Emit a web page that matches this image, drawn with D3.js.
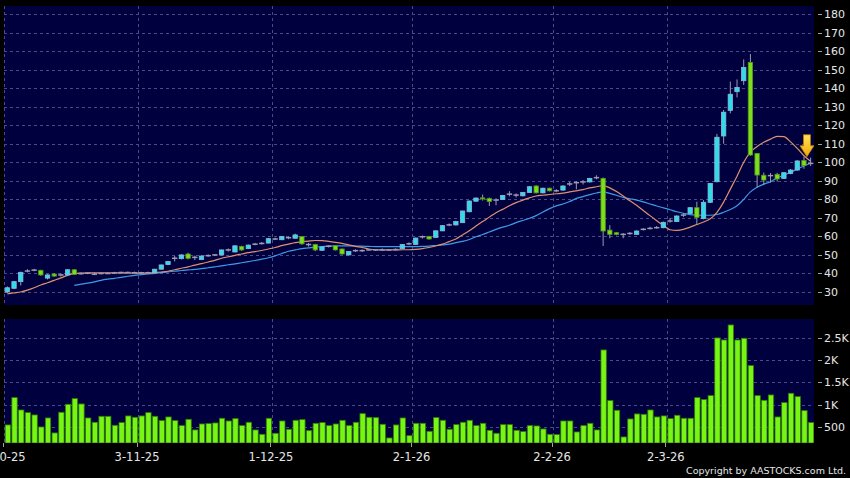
<!DOCTYPE html>
<meta charset="utf-8">
<style>
body { margin: 0; background-color: #000; }
text { font-family: 'DejaVu Sans', sans-serif; fill: #e6e6e6; }
.grid line { stroke: #4a4a88; stroke-dasharray: 3,3; shape-rendering: crispEdges; }
.axis path { display: none; }
.axis line { stroke: #a0a0a0; shape-rendering: crispEdges; }
</style>
<div class="chart"></div>
<script src="https://d3js.org/d3.v7.min.js"></script>
<script>
    // trading days, Oct 2025 - Mar 2026
    var days = [
        "2-10-25","3-10-25","6-10-25","8-10-25","9-10-25","10-10-25","13-10-25","14-10-25","15-10-25","16-10-25",
        "17-10-25","20-10-25","21-10-25","22-10-25","23-10-25","24-10-25","27-10-25","28-10-25","30-10-25","31-10-25",
        "3-11-25","4-11-25","5-11-25","6-11-25","7-11-25","10-11-25","11-11-25","12-11-25","13-11-25","14-11-25",
        "17-11-25","18-11-25","19-11-25","20-11-25","21-11-25","24-11-25","25-11-25","26-11-25","27-11-25","28-11-25",
        "1-12-25","2-12-25","3-12-25","4-12-25","5-12-25","8-12-25","9-12-25","10-12-25","11-12-25","12-12-25",
        "15-12-25","16-12-25","17-12-25","18-12-25","19-12-25","22-12-25","23-12-25","24-12-25","29-12-25","30-12-25",
        "31-12-25","2-1-26","5-1-26","6-1-26","7-1-26","8-1-26","9-1-26","12-1-26","13-1-26","14-1-26",
        "15-1-26","16-1-26","19-1-26","20-1-26","21-1-26","22-1-26","23-1-26","26-1-26","27-1-26","28-1-26",
        "29-1-26","30-1-26","2-2-26","3-2-26","4-2-26","5-2-26","6-2-26","9-2-26","10-2-26","11-2-26",
        "12-2-26","13-2-26","16-2-26","20-2-26","23-2-26","24-2-26","25-2-26","26-2-26","27-2-26","2-3-26",
        "3-3-26","4-3-26","5-3-26","6-3-26","9-3-26","10-3-26","11-3-26","12-3-26","13-3-26","16-3-26",
        "17-3-26","18-3-26","19-3-26","20-3-26","23-3-26","24-3-26","25-3-26","26-3-26","27-3-26","30-3-26",
        "31-3-26"];

    var open = [30,32,35.6,41.3,41.8,41.7,37.5,39.7,39.2,39.2, 42,39.9,40.1,39.6,40,40,40.3,40.5,40.5,40.4,
        40.4,40.4,40.4,42.3,44.8,48.2,48,50.5,48.7,47.5, 49.6,50,50,52.7,51.6,54.6,53.4,55.8,56.2,56.4,
        58.6,58.2,59.3,59,59.9,55.6,55.6,52.5,54.7,55, 53.2,50,52.3,52.3,52.7,52.7,52.7,52.7,52.9,53.4,
        56,55.7,59.8,60,59.5,63,66.2,66.2,67.4,73.3, 79,80.8,80.5,79.6,79.9,82.8,82.3,81.9,83.7,87.2,
        83.5,86,84.6,85,88.3,89,89.4,89.4,91.7,91.3, 63.4,62,61.1,61.6,61.1,63.8,64.3,64.7,64.7,68.3,
        68,71.5,72.4,75.5,69.7,78.4,89.5,114.2,128,138.1, 144,153.9,104.8,93,92.8,93.5,91.3,94,95.8,100.9,
        99.4];
    var high = [33,36,41,42.3,42.5,42,39.6,40.2,40,42.4, 42.3,40.6,40.8,40.7,40.6,40.5,40.9,41,41,41,
        40.9,41,42.5,44.8,46.8,49.5,50.4,51.2,49.6,49.8, 50.3,50.5,52.9,53.5,55.2,55,55.6,56.5,57,59.2,
        59.3,60.2,60,61.5,60.2,56.5,56,54.6,55.2,55.3, 53.5,52,53,53,53.2,53.2,53.5,53.2,53.5,55.9,
        56.8,59.4,60.5,60.3,63.3,66.1,67,68.4,74,79.4, 81,82.6,81,80.6,82.4,84.4,83.2,84,87.2,87.6,
        86.3,86.3,85.5,87.6,89.5,89.8,90.4,91.6,93,91.8, 66.1,62.4,61.8,62.3,63.3,64.5,65.2,65.6,68,70,
        71.4,72.5,75.8,78.7,79.6,88.9,115.3,128.2,143.5,144.7, 155.5,158.4,105,94.5,94.2,94.3,94.6,96.4,101.2,103,
        102.5];
    var low = [29.5,31.5,33.5,40.6,41.2,38.8,36.8,38.2,38.3,39, 39.2,39.4,39.6,39.1,39.5,39.6,39.8,40,40,40,
        39.9,39.8,40.1,42,44.5,46.5,47.6,47.6,47.2,47.2, 49,49.4,49.8,51.8,51.4,52.2,53.2,55.2,55.6,56.2,
        58,58,58.5,58.8,55.4,54.5,52,52.2,54,52.4, 50.2,49.8,51.6,51.6,52.3,52.2,52.2,52.3,52.4,53.2,
        55.3,55.5,58.8,58.3,59.2,62.8,65.5,65.8,67.2,73, 78.6,79.3,76.4,76.8,79.6,81.6,81,81.6,83.4,83.2,
        83.2,84.3,83.8,84.6,87.2,85.4,88,89.1,90.8,54.8, 59,60.6,59,60.8,60.9,63.2,63.8,64.2,64.4,67.4,
        67.8,70.5,72,66.1,69.2,78,89.2,110,126.4,135, 141.7,103.5,86.5,87.7,89,89.6,91,93.5,95.4,96.5,
        98];
    var close = [32.3,35.6,40.6,41.3,41.8,39.2,39.2,38.6,39.2,42, 39.5,39.9,40.1,39.6,40,40,40.3,40.5,40.5,40.4,
        40.4,40.4,42.3,44.6,46.5,48.2,50,48.2,48.7,49.4, 49.6,50,52.7,52.7,54.9,52.7,55.3,55.8,56.2,58.8,
        58.6,59.9,59.3,60.8,56,55.6,52.7,54.3,54.7,52.7, 50.5,51.8,52.3,52.3,52.7,52.7,52.7,52.7,52.9,55.6,
        56,59.1,59.8,58.6,63,65.8,66.2,68,73.7,79.1, 80.7,80.2,78.8,79.6,82.1,82.8,82.3,83.7,86.8,83.5,
        86,84.6,84.6,87.2,88.3,89,89.4,91.3,91.7,62.9, 61.1,61.1,61.1,61.6,62.9,63.8,64.3,64.7,67.6,68.3,
        71,71.5,75.5,70.3,78.4,88.6,113.5,127,136.7,140.4, 151.2,103.9,93.1,90.4,92.8,91,94.4,95.8,100.7,98.2,
        99.4];
    var volume = [538,1157,877,817,764,492,696,357,825,1006, 1134,1013,696,598,734,734,530,591,742,711,
        742,817,734,636,719,636,523,666,425,560, 568,583,689,628,681,523,598,425,326,689,
        349,628,440,643,658,409,575,591,523,560, 643,523,598,794,711,704,553,243,538,696,
        296,575,575,394,704,643,440,545,598,643, 523,575,417,349,545,545,417,387,523,515,
        447,326,319,628,628,379,523,575,425,2236, 1089,870,266,674,787,779,877,719,742,681,
        757,689,689,1157,1111,1202,2508,2462,2802,2462, 2500,1881,1202,1096,1217,719,1043,1255,1179,862,
        591];
    // moving averages as drawn on the chart (orange 10-day, blue 20-day)
    var ma10 = [29,29.5,30,31,32.3,33.8,35,36.3,37.6,39, 40,40.2,40.3,40.3,40.3,40.3,40.3,40.3,40.3,40.2,
        40.2,40.3,40.5,40.8,41.2,42,42.8,43.6,44.5,45.3, 46.2,47.1,48.2,49,49.8,50.5,51.2,51.8,52.4,53.2,
        54,55,55.8,56.6,57.1,57.5,57.8,57.7,57.3,56.8, 56.2,55.4,54.6,54,53.2,52.8,52.7,52.7,52.7,52.8,
        52.8,53,53.4,54,54.8,55.8,57.2,58.6,60.8,63, 65.6,68,70.4,72.8,74.6,76.5,78.2,79.6,80.8,81.8,
        82.2,82.6,83,83.4,84,84.6,85.2,86.2,86.8,87.4, 86.2,84.2,81.8,79.2,76.8,74,71.2,68.5,66,63.6,
        63.3,63.8,65,66.4,67.8,69.5,73,78.5,85.5,92.5, 100,105.5,108.5,110.8,112.5,114,113.8,111,107.5,103.5,
        100.5];
    var ma20 = [null,null,null,null,null,null,null,null,null,null,
        33.6,34.2,34.8,35.5,36.3,36.9,37.4,37.9,38.5,39, 39.4,39.8,40.1,40.5,40.9,41.2,41.6,41.9,42.2,42.6,
        43.1,43.6,44.1,44.7,45.2,45.8,46.4,47,47.7,48.5, 49.5,50.8,52,52.7,53.4,53.8,54.2,54.5,54.8,54.9,
        54.9,54.9,54.8,54.7,54.6,54.5,54.5,54.5,54.5,54.5, 54.5,54.5,54.6,54.8,55.1,55.4,55.8,56.6,57.3,58.3,
        59.8,61,62.4,63.8,65,66,67.4,68.6,69.8,71.2, 73.2,75,76.5,77.5,78.8,80.5,81.5,82.5,83.4,84,
        83.2,82.2,81,80.3,79.6,78.6,77.5,76.4,75.4,74.4, 73.3,72.5,71.8,71.5,71.4,71.4,71.8,73,74.5,76.5,
        80,84,86.5,88.2,89.5,91.6,93,94.6,96.4,98, 99.5];

    var monthStarts = ["2-10-25","3-11-25","1-12-25","2-1-26","2-2-26","2-3-26"];
    var priceTicks = [30,40,50,60,70,80,90,100,110,120,130,140,150,160,170,180];
    var volumeTicks = [500,1000,1500,2000,2500];
    var arrowDay = "30-3-26";

    var width = 850, height = 478;
    var plotLeft = 4, plotRight = 814;
    var priceTop = 6, priceBottom = 305;
    var volTop = 319, volBottom = 443;
    var panelColor = "#00003e";

    var svg = d3.select(".chart")
        .append("svg")
        .attr("width", width)
        .attr("height", height)
        .style("display", "block");

    svg.append("rect").attr("width", width).attr("height", height).attr("fill", "#000");

    var x = d3.scaleBand()
        .domain(days)
        .range([plotLeft, plotRight])
        .paddingInner(0.2)
        .paddingOuter(0.1);
    var bw = x.bandwidth();
    var gap = x.step() * 0.1;

    var y = d3.scaleLinear().domain([30, 180]).range([292, 14]);
    var yv = d3.scaleLinear().domain([0, 2500]).range([448.7, 338.3]);

    var defs = svg.append("defs");
    defs.append("clipPath").attr("id", "clipPrice")
        .append("rect").attr("x", plotLeft).attr("y", priceTop)
        .attr("width", plotRight - plotLeft).attr("height", priceBottom - priceTop);
    defs.append("clipPath").attr("id", "clipVol")
        .append("rect").attr("x", plotLeft).attr("y", volTop)
        .attr("width", plotRight - plotLeft).attr("height", volBottom - volTop);
    var grad = defs.append("linearGradient").attr("id", "arrowGrad")
        .attr("x1", 0).attr("y1", 0).attr("x2", 0).attr("y2", 1);
    grad.append("stop").attr("offset", "0%").attr("stop-color", "#ffe45a");
    grad.append("stop").attr("offset", "100%").attr("stop-color", "#f2a800");

    // panels
    svg.append("rect").attr("x", plotLeft).attr("y", priceTop)
        .attr("width", plotRight - plotLeft).attr("height", priceBottom - priceTop)
        .attr("fill", panelColor);
    svg.append("rect").attr("x", plotLeft).attr("y", volTop)
        .attr("width", plotRight - plotLeft).attr("height", volBottom - volTop)
        .attr("fill", panelColor);

    // grid
    var grid = svg.append("g").attr("class", "grid");
    grid.selectAll(".hp").data(priceTicks).enter().append("line")
        .attr("x1", plotLeft).attr("x2", plotRight)
        .attr("y1", function (d) { return Math.round(y(d)) + 0.5; })
        .attr("y2", function (d) { return Math.round(y(d)) + 0.5; });
    grid.selectAll(".hv").data(volumeTicks).enter().append("line")
        .attr("x1", plotLeft).attr("x2", plotRight)
        .attr("y1", function (d) { return Math.round(yv(d)) + 0.5; })
        .attr("y2", function (d) { return Math.round(yv(d)) + 0.5; });
    grid.selectAll(".vp").data(monthStarts).enter().append("line")
        .attr("x1", function (d) { return Math.round(x(d) - gap) + 0.5; })
        .attr("x2", function (d) { return Math.round(x(d) - gap) + 0.5; })
        .attr("y1", priceTop).attr("y2", priceBottom);
    grid.selectAll(".vv").data(monthStarts).enter().append("line")
        .attr("x1", function (d) { return Math.round(x(d) - gap) + 0.5; })
        .attr("x2", function (d) { return Math.round(x(d) - gap) + 0.5; })
        .attr("y1", volTop).attr("y2", volBottom);

    var candles = days.map(function (d, i) {
        return { day: d, o: open[i], h: high[i], l: low[i], c: close[i], v: volume[i] };
    });

    // moving averages
    var priceG = svg.append("g").attr("clip-path", "url(#clipPrice)");
    function maLine(arr, color) {
        var line = d3.line()
            .defined(function (d) { return d != null; })
            .x(function (d, i) { return x(days[i]) + bw / 2; })
            .y(function (d) { return y(d); })
            .curve(d3.curveMonotoneX);
        priceG.append("path")
            .datum(arr)
            .attr("fill", "none")
            .attr("stroke", color)
            .attr("stroke-width", 1.2)
            .attr("d", line);
    }
    maLine(ma20, "#3d9be6");
    maLine(ma10, "#e09070");

    // candles
    var cg = priceG.selectAll(".candle")
        .data(candles)
        .enter()
        .append("g")
        .attr("class", "candle");

    cg.append("line")
        .attr("x1", function (d) { return x(d.day) + bw / 2; })
        .attr("x2", function (d) { return x(d.day) + bw / 2; })
        .attr("y1", function (d) { return y(d.h); })
        .attr("y2", function (d) { return y(d.l); })
        .attr("stroke", "#9a9ab4")
        .attr("stroke-width", 1);

    cg.filter(function (d) { return d.o !== d.c; })
        .append("rect")
        .attr("x", function (d) { return x(d.day) + 0.5; })
        .attr("width", bw - 1)
        .attr("y", function (d) { return y(Math.max(d.o, d.c)); })
        .attr("height", function (d) { return Math.max(1, Math.abs(y(d.o) - y(d.c))); })
        .attr("fill", function (d) { return d.c > d.o ? "#2fdcec" : "#7ede1c"; })
        .attr("stroke", function (d) { return d.c > d.o ? "#8fb6d8" : "#4f9a18"; })
        .attr("stroke-width", 0.8);

    cg.filter(function (d) { return d.o === d.c; })
        .append("line")
        .attr("x1", function (d) { return x(d.day); })
        .attr("x2", function (d) { return x(d.day) + bw; })
        .attr("y1", function (d) { return y(d.c); })
        .attr("y2", function (d) { return y(d.c); })
        .attr("stroke", "#9a9ab4")
        .attr("stroke-width", 1.5);

    // marker arrow above the flagged day
    var ad = candles[days.indexOf(arrowDay)];
    var ax = x(ad.day) + bw / 2 + 3, ay = y(ad.h);
    svg.append("path")
        .attr("d", "M" + (ax - 3.5) + "," + (ay - 22) + "h7v11h3.5l-7,11l-7,-11h3.5z")
        .attr("fill", "url(#arrowGrad)")
        .attr("stroke", "#b77a00")
        .attr("stroke-width", 0.8);

    // volume bars
    svg.append("g").attr("clip-path", "url(#clipVol)")
        .selectAll(".vol")
        .data(candles)
        .enter()
        .append("rect")
        .attr("x", function (d) { return x(d.day) + 0.5; })
        .attr("width", bw)
        .attr("y", function (d) { return yv(d.v); })
        .attr("height", function (d) { return volBottom - yv(d.v); })
        .attr("fill", "#78f514")
        .attr("stroke", "#2f7d08")
        .attr("stroke-width", 0.8);

    // right axes
    var axP = svg.append("g")
        .attr("class", "axis")
        .attr("transform", "translate(818,0)")
        .call(d3.axisRight(y).tickValues(priceTicks).tickSize(4).tickPadding(2));
    axP.selectAll("text").style("font-size", "11px").attr("fill", "#e6e6e6");

    var fmtVol = function (v) { return v >= 1000 ? (v / 1000) + "K" : String(v); };
    var axV = svg.append("g")
        .attr("class", "axis")
        .attr("transform", "translate(818,0)")
        .call(d3.axisRight(yv).tickValues(volumeTicks).tickFormat(fmtVol).tickSize(4).tickPadding(2));
    axV.selectAll("text").style("font-size", "11px").attr("fill", "#e6e6e6");

    // date axis
    var axX = svg.append("g")
        .attr("class", "axis")
        .attr("transform", "translate(" + (-bw / 2 - 1.5) + "," + volBottom + ")")
        .call(d3.axisBottom(x).tickValues(monthStarts).tickSize(4).tickPadding(6));
    axX.selectAll("text").style("font-size", "11.5px").attr("fill", "#e6e6e6");

    svg.append("text")
        .attr("x", 846)
        .attr("y", 474)
        .attr("text-anchor", "end")
        .style("font-size", "9.5px")
        .text("Copyright by AASTOCKS.com Ltd.");
</script>
